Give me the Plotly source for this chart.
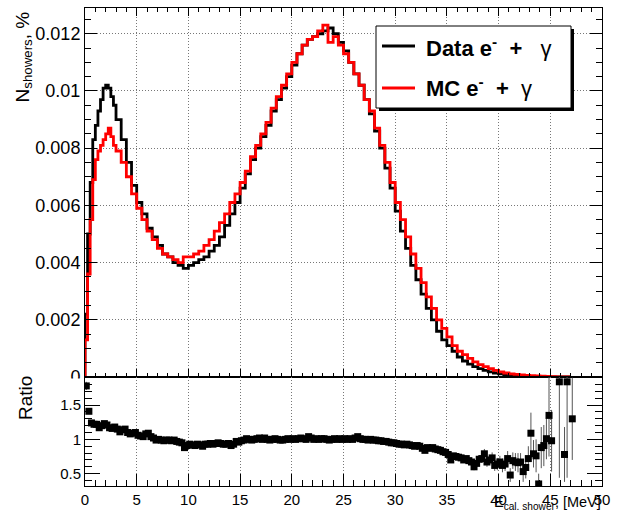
import numpy as np
import plotly.graph_objects as go

# ---------------- data ----------------
# bin left edges: 0.25 MeV bins up to 3 MeV, then 0.5 MeV bins up to 47 MeV
edges_lo = list(np.concatenate([np.arange(0, 3, 0.25), np.arange(3, 47, 0.5)]))
edge_hi = 47.0

data_vals = [
    0.0022, 0.0050, 0.0068, 0.0083, 0.0088, 0.0093, 0.0097, 0.0101, 0.0102, 0.0101, 0.0098, 0.0095,
    0.0090, 0.0083, 0.0075, 0.0067, 0.0061, 0.0057, 0.0052, 0.0049, 0.0046, 0.0043,
    0.0042, 0.0040, 0.0039, 0.0038, 0.0039, 0.0040, 0.0041, 0.0042, 0.0044, 0.0046,
    0.0049, 0.0053, 0.0057, 0.0061, 0.0066, 0.0071, 0.0076, 0.0080, 0.0084, 0.0088,
    0.0093, 0.0097, 0.0101, 0.0105, 0.0109, 0.0113, 0.0116, 0.0118, 0.0119, 0.0120,
    0.0121, 0.0122, 0.0120, 0.0117, 0.0114, 0.0110, 0.0106, 0.0102, 0.0097, 0.0092,
    0.0086, 0.0080, 0.0073, 0.0066, 0.0058, 0.0051, 0.0045, 0.0039, 0.0034, 0.0029,
    0.0024, 0.0020, 0.0016, 0.0013, 0.0011, 0.0009, 0.0007, 0.00056, 0.00045, 0.00036,
    0.00029, 0.00023, 0.00018, 0.00014, 0.00011, 0.00008, 0.00006, 0.00005, 0.00004, 0.00003,
    0.00002, 0.00001, 0.00001, 0.00001, 0.000005, 0.000003, 0.000003, 0.000002,
]

mc_vals = [
    0.0013, 0.0036, 0.0055, 0.0069, 0.0076, 0.0079, 0.0081, 0.0083, 0.0085, 0.0087, 0.0084, 0.0081,
    0.0079, 0.0075, 0.0070, 0.0064, 0.0059, 0.0055, 0.0051, 0.0048, 0.0045, 0.0043,
    0.0042, 0.0041, 0.0040, 0.0042, 0.0042, 0.0043, 0.0044, 0.0046, 0.0048, 0.0051,
    0.0054, 0.0057, 0.0061, 0.0064, 0.0068, 0.0072, 0.0077, 0.0081, 0.0085, 0.0089,
    0.0094, 0.0098, 0.0102, 0.0106, 0.0110, 0.0113, 0.0116, 0.0118, 0.0119, 0.0121,
    0.0123, 0.0117, 0.0119, 0.0116, 0.0113, 0.0110, 0.0106, 0.0102, 0.0097, 0.0093,
    0.0087, 0.0081, 0.0075, 0.0068, 0.0061, 0.0055, 0.0049, 0.0043, 0.0038, 0.0033,
    0.0028, 0.0024, 0.0020, 0.0017, 0.0014, 0.0011, 0.0009, 0.00078, 0.00065, 0.00053,
    0.00043, 0.00036, 0.00029, 0.00023, 0.00018, 0.00014, 0.00011, 0.00009, 0.00007, 0.00006,
    0.00005, 0.00004, 0.00003, 0.00002, 0.00001, 0.000005, 0.000003, 0.000002,
]

# ratio Data/MC at 0.25 MeV bin centres (0.125, 0.375, ...)
ratio_x = list(np.arange(0.125, 47.2, 0.25))
ratio_vals = [
    1.78, 1.41, 1.24, 1.22,
    1.22, 1.17, 1.20, 1.23,
    1.21, 1.17, 1.16, 1.18,
    1.15, 1.11, 1.14, 1.15,
    1.10, 1.08, 1.09, 1.10,
    1.06, 1.05, 1.04, 1.08,
    1.09, 1.04, 1.02, 0.99,
    1.00, 0.99, 0.98, 0.99,
    0.99, 0.98, 0.99, 0.97,
    0.96, 0.95, 0.88, 0.91,
    0.93, 0.92, 0.91, 0.93,
    0.92, 0.90, 0.93, 0.93,
    0.94, 0.93, 0.94, 0.95,
    0.94, 0.93, 0.93, 0.94,
    0.91, 0.93, 0.97, 0.96,
    0.98, 0.99, 1.01, 1.00,
    0.99, 1.00, 1.01, 1.02,
    1.00, 1.02, 1.00, 0.99,
    1.00, 1.01, 1.00, 0.99,
    0.99, 1.00, 1.01, 1.00,
    1.01, 1.00, 1.01, 1.02,
    1.01, 1.00, 1.04, 1.02,
    1.00, 1.01, 1.00, 1.01,
    1.01, 1.00, 0.99, 1.00,
    1.01, 1.00, 1.01, 1.00,
    1.01, 1.00, 1.01, 1.00,
    1.02, 1.04, 1.01, 1.00,
    1.00, 0.99, 1.00, 0.99,
    0.99, 0.98, 0.98, 0.97,
    0.97, 0.96, 0.95, 0.95,
    0.94, 0.93, 0.93, 0.92,
    0.93, 0.92, 0.91, 0.90,
    0.91, 0.90, 0.87, 0.84,
    0.88, 0.87, 0.88, 0.86,
    0.85, 0.84, 0.82, 0.81,
    0.78, 0.70, 0.76, 0.75,
    0.74, 0.73, 0.70, 0.72,
    0.69, 0.67, 0.60, 0.65,
    0.71, 0.72, 0.79, 0.67,
    0.70, 0.73, 0.62, 0.64,
    0.67, 0.62, 0.64, 0.72,
    0.48, 0.69, 0.67, 0.66,
    0.67, 0.53, 0.59, 0.72,
    1.09, 0.79, 0.76, 0.35,
    0.88, 0.91, 1.01, 1.35,
    0.98, None, None, 1.84,
    None, 0.78, 1.84, None,
    1.30,
]
ratio_err = [
    0.06, 0.03, 0.02, 0.02,
    0.02, 0.02, 0.02, 0.02,
    0.02, 0.02, 0.02, 0.02,
    0.02, 0.02, 0.02, 0.02,
    0.02, 0.02, 0.02, 0.02,
    0.02, 0.02, 0.02, 0.02,
    0.02, 0.02, 0.02, 0.02,
    0.02, 0.02, 0.02, 0.02,
    0.02, 0.02, 0.02, 0.02,
    0.02, 0.02, 0.02, 0.02,
    0.02, 0.02, 0.02, 0.02,
    0.02, 0.02, 0.02, 0.02,
    0.02, 0.02, 0.02, 0.02,
    0.02, 0.02, 0.02, 0.02,
    0.02, 0.02, 0.02, 0.02,
    0.02, 0.02, 0.02, 0.02,
    0.02, 0.02, 0.02, 0.02,
    0.02, 0.02, 0.02, 0.02,
    0.02, 0.02, 0.02, 0.02,
    0.02, 0.02, 0.02, 0.02,
    0.02, 0.02, 0.02, 0.02,
    0.02, 0.02, 0.02, 0.02,
    0.02, 0.02, 0.02, 0.02,
    0.02, 0.02, 0.02, 0.02,
    0.02, 0.02, 0.02, 0.02,
    0.02, 0.02, 0.02, 0.02,
    0.02, 0.02, 0.02, 0.02,
    0.02, 0.02, 0.02, 0.02,
    0.02, 0.02, 0.02, 0.02,
    0.02, 0.02, 0.02, 0.02,
    0.02, 0.02, 0.02, 0.02,
    0.02, 0.02, 0.02, 0.02,
    0.02, 0.02, 0.03, 0.03,
    0.03, 0.03, 0.03, 0.03,
    0.03, 0.03, 0.03, 0.03,
    0.03, 0.03, 0.03, 0.03,
    0.03, 0.04, 0.04, 0.04,
    0.04, 0.04, 0.05, 0.05,
    0.05, 0.06, 0.07, 0.07,
    0.07, 0.08, 0.08, 0.09,
    0.09, 0.10, 0.10, 0.11,
    0.10, 0.12, 0.13, 0.14,
    0.13, 0.15, 0.16, 0.18,
    0.30, 0.20, 0.24, 0.15,
    0.30, 0.30, 0.30, 0.60,
    0.45, 0.0, 0.0, 1.40,
    0.0, 0.40, 1.40, 0.0,
    0.60,
]

x_ticks = [0, 5, 10, 15, 20, 25, 30, 35, 40, 45, 50]

# ---------------- figure ----------------
FONT = "Liberation Sans, Arial, Helvetica, sans-serif"
W, H = 617, 516
L, R, T, B = 85, 15, 8, 30
PW, PH = W - L - R, H - T - B
split = (486 - 377) / PH


def X(px):
    return (px - L) / PW


def Y(py):
    return (H - B - py) / PH


def step(vals):
    xs = [0.0] + edges_lo + [edge_hi]
    ys = [0.0] + vals + [vals[-1]]
    return xs, ys


fig = go.Figure()
xd, yd = step(data_vals)
xm, ym = step(mc_vals)
fig.add_trace(go.Scatter(x=xd, y=yd, mode="lines", line=dict(color="#000000", width=2.8, shape="hv"),
                         xaxis="x", yaxis="y", showlegend=False))
fig.add_trace(go.Scatter(x=xm, y=ym, mode="lines", line=dict(color="#ff0000", width=2.8, shape="hv"),
                         xaxis="x", yaxis="y", showlegend=False))
fig.add_trace(go.Scatter(x=ratio_x, y=ratio_vals, mode="markers",
                         marker=dict(symbol="square", size=7, color="#000000"),
                         error_y=dict(type="data", array=ratio_err, visible=True, width=0,
                                      thickness=1, color="#555555"),
                         xaxis="x2", yaxis="y2", showlegend=False, cliponaxis=True))

grid = dict(showgrid=True, gridcolor="#777777", gridwidth=1, griddash="1px,2px")
common_ax = dict(showline=True, linecolor="#000000", linewidth=1, ticks="inside",
                 tickcolor="#000000", zeroline=False)

fig.update_layout(
    width=W, height=H, margin=dict(l=L, r=R, t=T, b=B),
    paper_bgcolor="white", plot_bgcolor="white",
    font=dict(family=FONT, color="#000000"),
    xaxis=dict(domain=[0, 1], anchor="y", range=[0, 50], tickvals=x_ticks, showticklabels=False,
               mirror="ticks", ticklen=8,
               minor=dict(dtick=1, ticklen=4, ticks="inside", tickcolor="#000000", showgrid=False),
               **grid, **common_ax),
    yaxis=dict(domain=[split, 1], anchor="x", range=[0, 0.0129], dtick=0.002, tick0=0,
               mirror="ticks", ticklen=12, tickfont=dict(size=18, family=FONT),
               minor=dict(dtick=0.0005, ticklen=6, ticks="inside", tickcolor="#000000", showgrid=False),
               **grid, **common_ax),
    xaxis2=dict(domain=[0, 1], anchor="y2", range=[0, 50], tickvals=x_ticks, matches="x",
                mirror=True, ticklen=12, tickfont=dict(size=15, family=FONT),
                minor=dict(dtick=1, ticklen=6, ticks="inside", tickcolor="#000000", showgrid=False),
                **grid, **common_ax),
    yaxis2=dict(domain=[0, split], anchor="x2", range=[0.32, 1.91], tickvals=[0.5, 1, 1.5],
                ticktext=["0.5", "1", "1.5"],
                mirror="ticks", ticklen=15, tickfont=dict(size=15, family=FONT), showgrid=False,
                minor=dict(dtick=0.1, ticklen=7, ticks="inside", tickcolor="#000000", showgrid=False),
                **{k: v for k, v in common_ax.items()}),
)

shapes = []
# partially hidden "0" of the upper pad (covered by the ratio pad)
shapes.append(dict(type="rect", xref="paper", yref="paper", x0=X(35), x1=X(83.5), y0=Y(395), y1=Y(378.5),
                   fillcolor="white", line=dict(width=0), layer="above"))
# legend box with shadow
shapes.append(dict(type="rect", xref="paper", yref="paper", x0=X(379), x1=X(574), y0=Y(111), y1=Y(29),
                   fillcolor="black", line=dict(width=0), layer="above"))
shapes.append(dict(type="rect", xref="paper", yref="paper", x0=X(376), x1=X(571), y0=Y(108), y1=Y(26),
                   fillcolor="white", line=dict(color="black", width=1), layer="above"))
shapes.append(dict(type="line", xref="paper", yref="paper", x0=X(382), x1=X(415), y0=Y(46), y1=Y(46),
                   line=dict(color="#000000", width=2.8), layer="above"))
shapes.append(dict(type="line", xref="paper", yref="paper", x0=X(382), x1=X(415), y0=Y(88), y1=Y(88),
                   line=dict(color="#ff0000", width=2.8), layer="above"))
fig.update_layout(shapes=shapes)

ann = []
ann.append(dict(xref="paper", yref="paper", x=X(424), y=Y(46.5), xanchor="left", yanchor="middle",
                text="<b>Data e<sup>-</sup>&nbsp; + </b>&nbsp; γ", showarrow=False,
                font=dict(size=22, family=FONT)))
ann.append(dict(xref="paper", yref="paper", x=X(424), y=Y(87), xanchor="left", yanchor="middle",
                text="<b>MC e<sup>-</sup>&nbsp; + </b>&nbsp;γ", showarrow=False,
                font=dict(size=22, family=FONT)))
ann.append(dict(xref="paper", yref="paper", x=X(24), y=Y(10), xanchor="center", yanchor="top",
                text="N<sub>showers</sub>, %", textangle=-90, showarrow=False,
                font=dict(size=19, family=FONT)))
ann.append(dict(xref="paper", yref="paper", x=X(25), y=Y(374), xanchor="center", yanchor="top",
                text="Ratio", textangle=-90, showarrow=False, font=dict(size=19, family=FONT)))
ann.append(dict(xref="paper", yref="paper", x=X(603), y=Y(492), xanchor="right", yanchor="top",
                text="E<sub>cal. shower</sub>, [MeV]", showarrow=False, font=dict(size=14.5, family=FONT)))
fig.update_layout(annotations=ann)

fig.write_html("out.html")
